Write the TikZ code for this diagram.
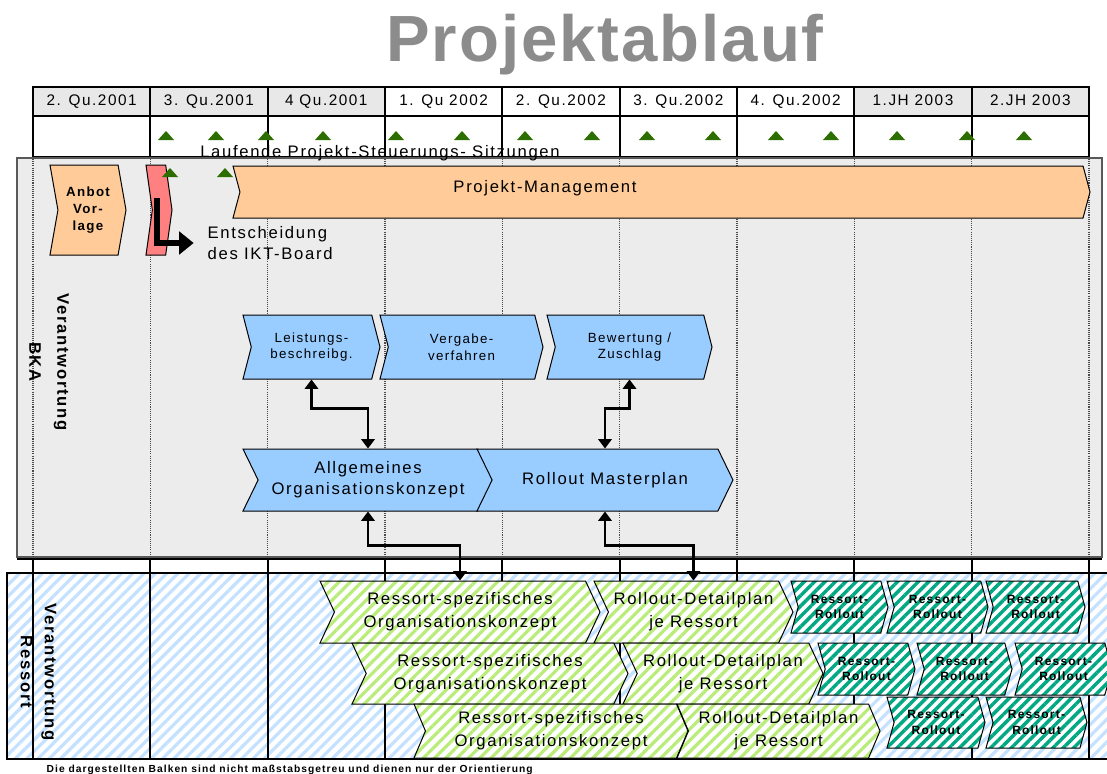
\documentclass[tikz,border=0pt]{standalone}
\usepackage{fontspec}
\setmainfont{Liberation Sans}[LetterSpace=10]
\newfontfamily\titlefont{Liberation Sans}[LetterSpace=3]
\usetikzlibrary{shapes.symbols,patterns.meta,arrows.meta}

\definecolor{peach}{RGB}{255,204,153}
\definecolor{redbox}{RGB}{255,128,128}
\definecolor{skyblue}{RGB}{153,204,255}
\definecolor{bkagray}{RGB}{236,236,236}
\definecolor{hdrgray}{RGB}{232,232,232}
\definecolor{titlegray}{RGB}{140,140,140}
\definecolor{mgreen}{RGB}{45,110,0}
\definecolor{stripeblue}{RGB}{196,226,255}
\definecolor{stripegreen}{RGB}{186,236,122}
\definecolor{stripeteal}{RGB}{0,168,132}

\tikzset{
  chev/.style n args={3}{signal, signal from=west, signal to=east,
    signal pointer angle=#3, minimum width=#1*0.75pt, minimum height=#2*0.75pt,
    inner sep=0pt, draw=black, line width=0.75pt, align=center},
  txt/.style={font=\fontsize{12.5}{16}\selectfont},
  hdr/.style={font=\fontsize{11.5}{13}\selectfont, anchor=base},
  small/.style={font=\fontsize{10}{12.5}\selectfont},
  greenbox/.style={preaction={fill=white},
    pattern={Lines[angle=45,distance=6pt,line width=2.4pt]}, pattern color=stripegreen,
    font=\fontsize{12.5}{17}\selectfont},
  tealbox/.style={preaction={fill=white},
    pattern={Lines[angle=45,distance=5.5pt,line width=2.6pt]}, pattern color=stripeteal,
    font=\bfseries\fontsize{9}{11.5}\selectfont},
  conn/.style={line width=1.7pt,
    {Triangle[width=10pt,length=7pt]}-{Triangle[width=10pt,length=7pt]}},
  larrow/.style={line width=5pt, -{Triangle[width=17pt,length=11pt]}},
  colline/.style={line width=1.5pt},
  dotline/.style={gray!60!black, line width=0.9pt, dash pattern=on 0.8pt off 0.8pt},
}

\begin{document}
\begin{tikzpicture}[x=0.75pt,y=-0.75pt]
\useasboundingbox (0,0) rectangle (1107,774);

% title
\node[titlegray, font=\titlefont\bfseries\fontsize{49}{49}\selectfont, anchor=base]
  (title) at (605,62) {Projektablauf};

% time table header
\foreach \a/\b in {33/150.3, 150.3/267.7, 267.7/385, 854.3/971.7, 971.7/1089}
  \fill[hdrgray] (\a,87) rectangle (\b,116);
\draw[line width=1pt] (33,87) rectangle (1089,157);
\draw[line width=1pt] (33,116) -- (1089,116);
\foreach \x in {150.3,267.7,385,502.3,619.7,737,854.3,971.7}
  \draw[colline] (\x,87) -- (\x,157);
\foreach \c/\t [count=\k] in {91.65/2. Qu.2001, 209/3. Qu.2001, 326.35/4 Qu.2001,
    443.65/1. Qu 2002, 561/2. Qu.2002, 678.35/3. Qu.2002, 795.65/4. Qu.2002,
    913/1.JH 2003, 1030.35/2.JH 2003}
  \node[hdr] (h\k) at (\c,106) {\t};

% steering meetings
\foreach \x in {166,216,266,323,396,462,525,592,647,713,776,831,897,967,1024}
  \fill[mgreen] (\x-8,140) -- (\x+8,140) -- (\x,131) -- cycle;

% BKA lane
\draw[gray!70!black, line width=0.8pt, fill=bkagray] (17,158) rectangle (1102,557);
\foreach \x in {33,150.3,267.7,385,502.3,619.7,737,854.3,971.7,1089}
  \draw[dotline] (\x,159) -- (\x,556);

\node[txt, anchor=base] (lauf) at (380,157) {Laufende Projekt-Steuerungs- Sitzungen};

% Ressort lane
\draw[line width=1pt] (17,559) -- (1102,559);
\draw[line width=0.8pt, preaction={fill=white},
  pattern={Lines[angle=45,distance=6pt,line width=2.4pt]}, pattern color=stripeblue]
  (7,573) rectangle (1110,759);
\foreach \x in {150.3,267.7,385,502.3,619.7,737,854.3,971.7}
  \draw[colline] (\x,559) -- (\x,759);
\foreach \x in {33,1089}
  \draw[line width=1pt] (\x,559) -- (\x,759);

% lane labels
\node[rotate=-90, align=center, font=\bfseries\fontsize{12.5}{21}\selectfont]
  (lbka) at (49,362) {Verantwortung\\BKA};
\node[rotate=-90, align=center, font=\bfseries\fontsize{12.5}{18}\selectfont]
  (lres) at (38.5,672) {Verantwortung\\Ressort};

% BKA activities
\node[chev={76}{90}{160}, fill=peach, font=\bfseries\fontsize{10}{12.5}\selectfont]
  (anbot) at (88,210) {Anbot\\Vor-\\lage};
\node[chev={26}{90}{164}, fill=redbox] (ikt) at (159,210) {};
\fill[mgreen] (162,177) -- (178,177) -- (170,168) -- cycle;
\fill[mgreen] (217,177) -- (233,177) -- (225,168) -- cycle;
\node[chev={857}{52}{150}, fill=peach] (pm) at (661.5,192) {};
\node[txt] (pmtext) at (545,188) {Projekt-Management};

\node[txt, align=left, anchor=west] (ent) at (203,243) {Entscheidung\\des IKT-Board};
\coordinate (lstart) at (157,198);
\draw[larrow, shorten >=7pt] (lstart) |- (ent.west);

\node[chev={137}{64}{151}, fill=skyblue, small] (lei) at (311.5,347) {Leistungs-\\beschreibg.};
\node[chev={163}{64}{151}, fill=skyblue, small] (verg) at (461.5,347) {Vergabe-\\verfahren};
\node[chev={165}{64}{151}, fill=skyblue, small] (bew) at (629.5,347) {Bewertung /\\Zuschlag};

\node[chev={250}{62}{128}, fill=skyblue, font=\fontsize{12.5}{16}\selectfont]
  (allg) at (368,480) {Allgemeines\\Organisationskonzept};
\node[chev={256}{62}{128}, fill=skyblue, txt] (roll) at (605,480) {Rollout Masterplan};

% Ressort activities
\node[chev={280}{62}{130}, greenbox] (a1) at (460,612) {Ressort-spezifisches\\Organisationskonzept};
\node[chev={199}{62}{130}, greenbox] (a2) at (693.5,612) {Rollout-Detailplan\\je Ressort};
\node[chev={97}{52}{149}, tealbox] (a3) at (839.5,607) {Ressort-\\Rollout};
\node[chev={101}{52}{149}, tealbox] (a4) at (937.5,607) {Ressort-\\Rollout};
\node[chev={99}{52}{149}, tealbox] (a5) at (1035.5,607) {Ressort-\\Rollout};

\node[chev={276}{61}{130}, greenbox] (b1) at (490,673.5) {Ressort-spezifisches\\Organisationskonzept};
\node[chev={200}{61}{130}, greenbox] (b2) at (723,673.5) {Rollout-Detailplan\\je Ressort};
\node[chev={97}{52}{149}, tealbox] (b3) at (866.5,669) {Ressort-\\Rollout};
\node[chev={95}{52}{149}, tealbox] (b4) at (964.5,669) {Ressort-\\Rollout};
\node[chev={97}{52}{149}, tealbox] (b5) at (1063.5,669) {Ressort-\\Rollout};

\node[chev={274}{54}{134}, greenbox] (c1) at (551,731) {Ressort-spezifisches\\Organisationskonzept};
\node[chev={203}{54}{134}, greenbox] (c2) at (778.5,731) {Rollout-Detailplan\\je Ressort};
\node[chev={98}{51}{149}, tealbox] (c3) at (936,722.5) {Ressort-\\Rollout};
\node[chev={101}{51}{149}, tealbox] (c4) at (1036.5,722.5) {Ressort-\\Rollout};

% dependencies
\draw[conn] (lei.south) -- ++(0,29) -| (allg.north);
\draw[conn] (bew.south) -- ++(0,29) -| (roll.north);
\draw[conn] (allg.south) -- ++(0,34) -| (a1.north);
\draw[conn] (roll.south) -- ++(0,34) -| (a2.north);

% footnote
\node[anchor=west, font=\bfseries\fontsize{7.7}{9}\selectfont] (note) at (42,770)
  {Die dargestellten Balken sind nicht maßstabsgetreu und dienen nur der Orientierung};
\end{tikzpicture}
\end{document}
